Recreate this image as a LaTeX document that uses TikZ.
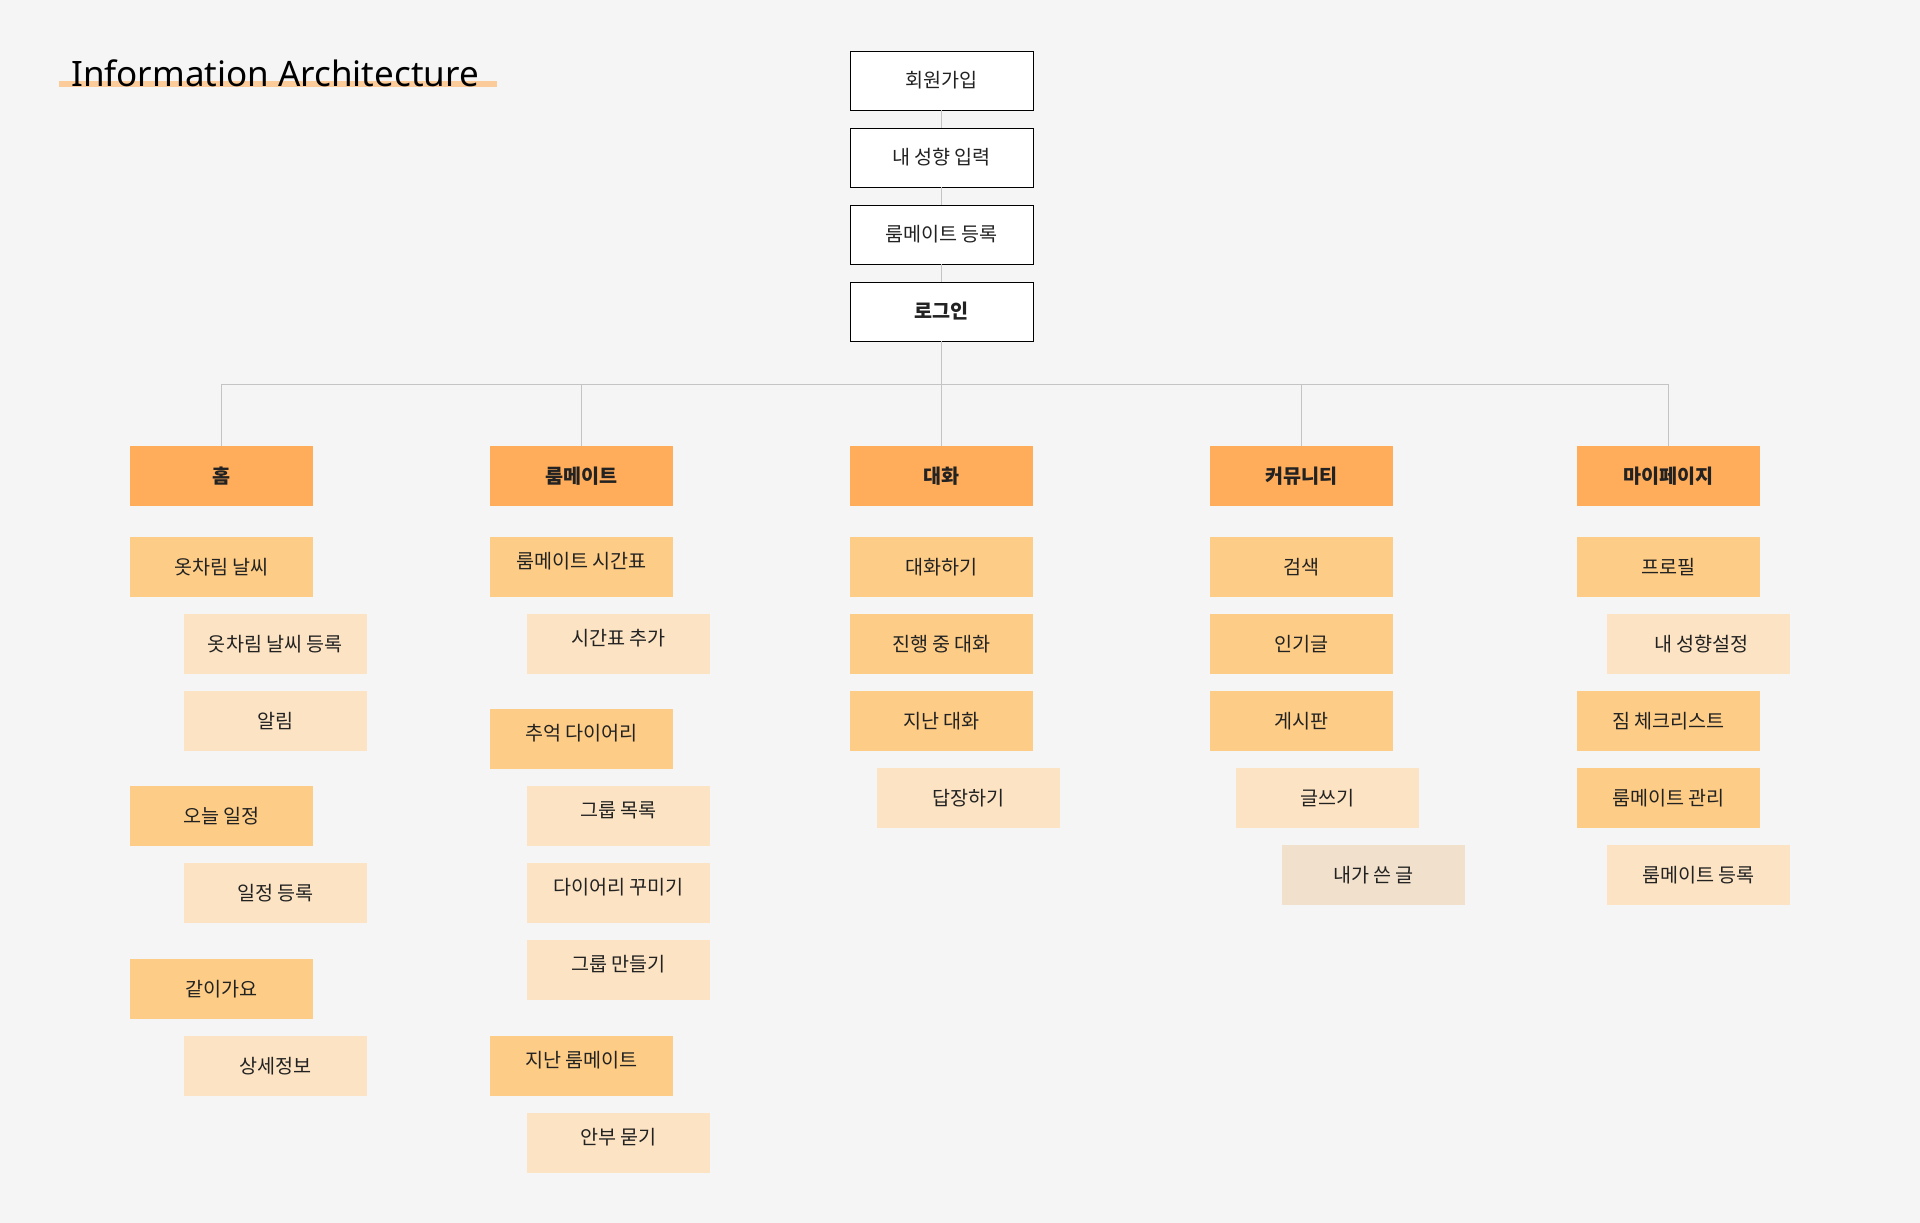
\documentclass[tikz,border=0pt]{standalone}
\usepackage{fontspec}
\setmainfont{Noto Sans CJK KR}
\newfontfamily\titlefont{Noto Sans}
\definecolor{bgc}{HTML}{F5F5F5}
\definecolor{catc}{HTML}{FFAD5B}
\definecolor{midc}{HTML}{FDCC86}
\definecolor{litec}{HTML}{FCE3C3}
\definecolor{beigec}{HTML}{F1E0CB}
\definecolor{barc}{HTML}{FBCB9A}
\definecolor{linec}{HTML}{C4C4C4}
\definecolor{txt}{HTML}{222222}
\begin{document}
\begin{tikzpicture}[x=1pt,y=-1pt,
  box/.style={anchor=north west, minimum width=183pt, minimum height=60pt, inner sep=0pt, outer sep=0pt,
    font=\fontsize{19.6}{23}\selectfont, text=txt, text height=14.6pt, text depth=0pt},
  topbox/.style={box, draw=black, line width=0.9pt, fill=white, minimum height=59pt},
  catbox/.style={box, fill=catc, font=\fontsize{19.6}{23}\selectfont\bfseries},
  midbox/.style={box, fill=midc},
  litebox/.style={box, fill=litec},
  beigebox/.style={box, fill=beigec},
  raised/.style={text depth=12.6pt},
  conn/.style={draw=linec, line width=1.9pt}
]
\useasboundingbox (0,0) rectangle (1920,1223);
\fill[bgc] (0,0) rectangle (1920,1223);
\fill[barc] (59,81) rectangle (497,87);
\node[anchor=base west, inner sep=0pt, font=\titlefont\fontsize{35}{40}\selectfont] (title) at (71,86) {Information Architecture};

% top chain
\node[topbox] (join) at (850,51) {회원가입};
\node[topbox] (pref) at (850,128) {내 성향 입력};
\node[topbox] (reg) at (850,205) {룸메이트 등록};
\node[topbox, font=\fontsize{19.6}{23}\selectfont\bfseries] (login) at (850,282) {로그인};

% categories
\node[catbox] (home) at (130,446) {홈};
\node[catbox] (room) at (490,446) {룸메이트};
\node[catbox] (chat) at (850,446) {대화};
\node[catbox] (comm) at (1210,446) {커뮤니티};
\node[catbox] (mypg) at (1577,446) {마이페이지};

% connectors
\coordinate (bus) at (941.5,384.5);
\draw[conn] (join) -- (pref);
\draw[conn] (pref) -- (reg);
\draw[conn] (reg) -- (login);
\draw[conn] (login.south) -- (bus);
\draw[conn] (home.north) |- (bus);
\draw[conn] (room.north) |- (bus);
\draw[conn] (chat.north) -- (bus);
\draw[conn] (comm.north) |- (bus);
\draw[conn] (mypg.north) |- (bus);

% home column
\node[midbox] (h1) at (130,537) {옷차림 날씨};
\node[litebox] (h2) at (184,614) {옷차림 날씨 등록};
\node[litebox] (h3) at (184,691) {알림};
\node[midbox] (h4) at (130,786) {오늘 일정};
\node[litebox] (h5) at (184,863) {일정 등록};
\node[midbox] (h6) at (130,959) {같이가요};
\node[litebox] (h7) at (184,1036) {상세정보};

% roommate column
\node[midbox, raised] (r1) at (490,537) {룸메이트 시간표};
\node[litebox, raised] (r2) at (527,614) {시간표 추가};
\node[midbox, raised] (r3) at (490,709) {추억 다이어리};
\node[litebox, raised] (r4) at (527,786) {그룹 목록};
\node[litebox, raised] (r5) at (527,863) {다이어리 꾸미기};
\node[litebox, raised] (r6) at (527,940) {그룹 만들기};
\node[midbox, raised] (r7) at (490,1036) {지난 룸메이트};
\node[litebox, raised] (r8) at (527,1113) {안부 묻기};

% chat column
\node[midbox] (c1) at (850,537) {대화하기};
\node[midbox] (c2) at (850,614) {진행 중 대화};
\node[midbox] (c3) at (850,691) {지난 대화};
\node[litebox] (c4) at (877,768) {답장하기};

% community column
\node[midbox] (m1) at (1210,537) {검색};
\node[midbox] (m2) at (1210,614) {인기글};
\node[midbox] (m3) at (1210,691) {게시판};
\node[litebox] (m4) at (1236,768) {글쓰기};
\node[beigebox] (m5) at (1282,845) {내가 쓴 글};

% mypage column
\node[midbox] (p1) at (1577,537) {프로필};
\node[litebox] (p2) at (1607,614) {\hspace{6pt}내 성향설정};
\node[midbox] (p3) at (1577,691) {짐 체크리스트};
\node[midbox] (p4) at (1577,768) {룸메이트 관리};
\node[litebox] (p5) at (1607,845) {룸메이트 등록};
\end{tikzpicture}
\end{document}
